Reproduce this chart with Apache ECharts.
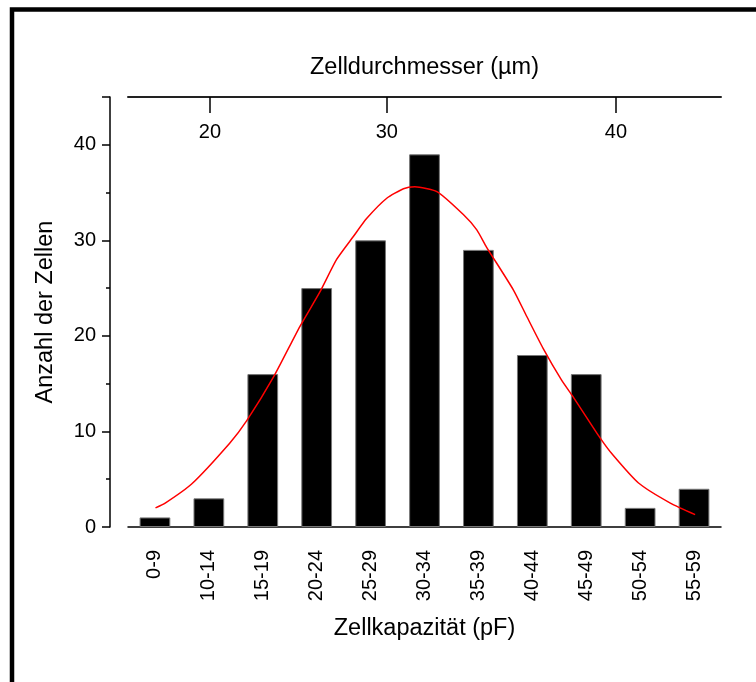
<!DOCTYPE html>
<html>
<head>
<meta charset="utf-8">
<script src="https://cdn.jsdelivr.net/npm/echarts@6/dist/echarts.min.js"></script>
<style>
  html, body { margin: 0; padding: 0; background: #fff; }
  #chart { width: 756px; height: 682px; }
</style>
</head>
<body>
<div id="chart"></div>
<script>
// Kategorien (Zellkapazität in pF)
var categories = ['0-9', '10-14', '15-19', '20-24', '25-29', '30-34', '35-39', '40-44', '45-49', '50-54', '55-59'];
// Anzahl der Zellen pro Klasse
var counts = [1, 3, 16, 25, 30, 39, 29, 18, 16, 2, 4];
// Gauss-Anpassung: [Position in Klassen-Einheiten, Anzahl]
var fitCurve = [
  [0.51, 2.0], [0.69, 2.5], [1.18, 4.5], [1.89, 8.8], [2.20, 11.1], [2.70, 15.7],
  [3.19, 21.0], [3.56, 24.6], [3.87, 28.0], [4.18, 30.4], [4.43, 32.3], [4.80, 34.4],
  [5.11, 35.4], [5.32, 35.6], [5.73, 35.1], [6.22, 32.7], [6.47, 31.1], [6.65, 29.3],
  [7.15, 24.8], [7.40, 22.0], [7.70, 18.7], [8.04, 15.4], [8.26, 13.6], [8.76, 9.3],
  [9.00, 7.5], [9.47, 4.6], [10.06, 2.5], [10.52, 1.3]
];
// obere Achse: Zelldurchmesser (µm)
var diameterTicks = [20, 30, 40];
var diameterTickPos = [1.52, 4.80, 9.05];

var fontFamily = 'Liberation Sans, Arial, sans-serif';

var chart = echarts.init(document.getElementById('chart'));

var option = {
  backgroundColor: '#fff',
  animation: false,
  textStyle: { fontFamily: fontFamily, color: '#000' },
  graphic: [{
    type: 'rect',
    shape: { x: 12, y: 9.5, width: 900, height: 900 },
    style: { fill: 'none', stroke: '#000', lineWidth: 4.5 }
  }],
  grid: { left: 128, right: 35, top: 97, bottom: 155 },
  xAxis: [
    {
      type: 'category',
      position: 'bottom',
      data: categories,
      axisLine: { onZero: false, lineStyle: { color: '#000', width: 1.5 } },
      axisTick: { length: 5, lineStyle: { color: '#000', width: 1.5 } },
      axisLabel: { rotate: 90, fontSize: 20, color: '#000', margin: 23, interval: 0, fontFamily: fontFamily },
      name: 'Zellkapazität (pF)',
      nameLocation: 'middle',
      nameGap: 90,
      nameTextStyle: { fontSize: 23.5, color: '#000', fontFamily: fontFamily },
      splitLine: { show: false }
    },
    {
      type: 'category',
      position: 'bottom',
      data: categories,
      axisLine: { show: false, onZero: false },
      axisTick: { inside: true, length: 5, lineStyle: { color: '#000', width: 1.5 } },
      axisLabel: { show: false },
      splitLine: { show: false }
    },
    {
      type: 'value',
      position: 'top',
      min: 0,
      max: categories.length,
      axisLine: { show: true, onZero: false, lineStyle: { color: '#222', width: 2 } },
      axisTick: {
        show: true, inside: true, length: 16,
        customValues: diameterTickPos,
        lineStyle: { color: '#000', width: 1.5 }
      },
      axisLabel: {
        inside: true, margin: 25, fontSize: 20, color: '#000', fontFamily: fontFamily,
        customValues: diameterTickPos,
        formatter: function (v) {
          var i = diameterTickPos.indexOf(v);
          return i >= 0 ? String(diameterTicks[i]) : '';
        }
      },
      name: 'Zelldurchmesser (µm)',
      nameLocation: 'middle',
      nameGap: 17,
      nameTextStyle: { fontSize: 23.5, color: '#000', fontFamily: fontFamily },
      splitLine: { show: false }
    }
  ],
  yAxis: {
    type: 'value',
    min: 0,
    max: 45,
    interval: 10,
    offset: 18,
    axisLine: { show: true, onZero: false, lineStyle: { color: '#000', width: 1.5 } },
    axisTick: { show: true, length: 8, lineStyle: { color: '#000', width: 1.5 } },
    minorTick: { show: true, splitNumber: 2, length: 4, lineStyle: { color: '#000', width: 1.5 } },
    axisLabel: {
      fontSize: 20, color: '#000', margin: 14, fontFamily: fontFamily,
      formatter: function (v) { return v % 10 === 0 ? String(v) : ''; }
    },
    name: 'Anzahl der Zellen',
    nameLocation: 'middle',
    nameGap: 52,
    nameRotate: 90,
    nameTextStyle: { fontSize: 23.5, color: '#000', fontFamily: fontFamily },
    splitLine: { show: false }
  },
  series: [
    {
      type: 'bar',
      xAxisIndex: 0,
      data: counts,
      barWidth: '57%',
      itemStyle: { color: '#000', borderColor: '#777', borderWidth: 1 }
    },
    {
      type: 'line',
      xAxisIndex: 2,
      data: fitCurve,
      symbol: 'none',
      smooth: 0.2,
      lineStyle: { color: '#ff0000', width: 1.5 },
      z: 3
    }
  ]
};

chart.setOption(option);
</script>
</body>
</html>
